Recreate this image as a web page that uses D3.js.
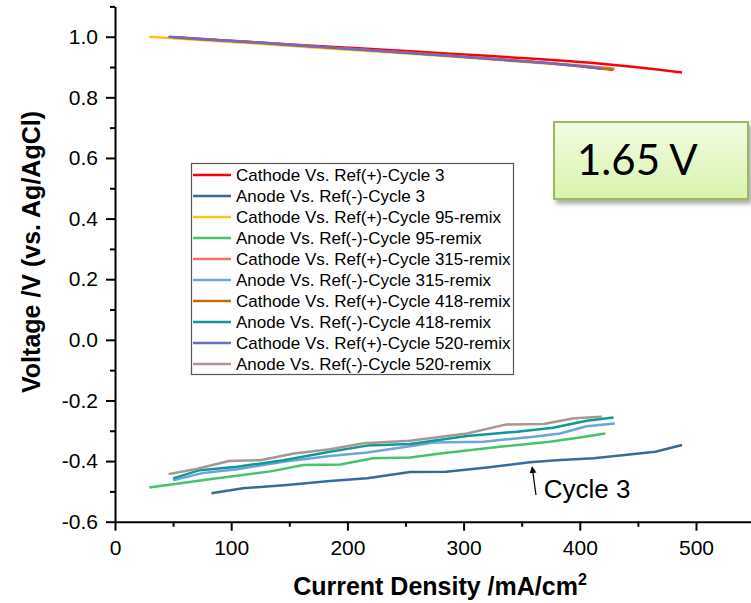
<!DOCTYPE html>
<html>
<head>
<meta charset="utf-8">
<script src="https://cdn.jsdelivr.net/npm/d3@7"></script>
<style>
  body { margin: 0; background: #fff; }
  svg { display: block; font-family: "Liberation Sans", Arial, sans-serif; }
</style>
</head>
<body>
<svg id="chart" width="751" height="603"></svg>
<script>
// series names (legend order)
var seriesNames = [
  "Cathode Vs. Ref(+)-Cycle 3",
  "Anode Vs. Ref(-)-Cycle 3",
  "Cathode Vs. Ref(+)-Cycle 95-remix",
  "Anode Vs. Ref(-)-Cycle 95-remix",
  "Cathode Vs. Ref(+)-Cycle 315-remix",
  "Anode Vs. Ref(-)-Cycle 315-remix",
  "Cathode Vs. Ref(+)-Cycle 418-remix",
  "Anode Vs. Ref(-)-Cycle 418-remix",
  "Cathode Vs. Ref(+)-Cycle 520-remix",
  "Anode Vs. Ref(-)-Cycle 520-remix"
];

// current density (mA/cm2) and voltage (V) for each curve
var cathode3X = [48, 83, 110, 148, 185, 217, 254, 285, 320, 357, 380, 412, 443, 465, 488];
var cathode3V = [0.998, 0.990, 0.984, 0.975, 0.967, 0.960, 0.952, 0.945, 0.937, 0.928, 0.922, 0.913, 0.902, 0.893, 0.882];
var anode3X = [83, 110, 148, 185, 217, 254, 285, 320, 357, 380, 412, 465, 488];
var anode3V = [-0.506, -0.490, -0.479, -0.466, -0.457, -0.436, -0.435, -0.421, -0.404, -0.397, -0.391, -0.369, -0.347];

var cathode95X = [29.5, 83, 134, 162, 194, 222, 254, 280, 331, 374, 400, 422];
var cathode95V = [1.000, 0.987, 0.974, 0.967, 0.959, 0.952, 0.944, 0.937, 0.923, 0.911, 0.903, 0.894];
var anode95X = [29.5, 83, 134, 162, 194, 222, 254, 280, 331, 374, 400, 422];
var anode95V = [-0.487, -0.459, -0.434, -0.413, -0.411, -0.391, -0.388, -0.375, -0.353, -0.336, -0.322, -0.309];

var cathode315X = [50, 76, 105, 145, 185, 217, 254, 274, 317, 360, 383, 406, 430];
var cathode315V = [0.998, 0.992, 0.985, 0.975, 0.964, 0.956, 0.946, 0.941, 0.929, 0.917, 0.910, 0.903, 0.894];
var anode315X = [50, 76, 105, 145, 185, 217, 254, 274, 317, 360, 383, 406, 430];
var anode315V = [-0.463, -0.439, -0.427, -0.402, -0.383, -0.372, -0.351, -0.339, -0.336, -0.320, -0.309, -0.285, -0.276];

var cathode418X = [50, 73, 105, 145, 185, 217, 254, 303, 346, 377, 406, 429];
var cathode418V = [0.998, 0.992, 0.985, 0.975, 0.964, 0.956, 0.946, 0.933, 0.921, 0.912, 0.900, 0.890];
var anode418X = [50, 73, 105, 145, 185, 217, 254, 303, 346, 377, 406, 429];
var anode418V = [-0.457, -0.430, -0.419, -0.397, -0.369, -0.349, -0.344, -0.317, -0.303, -0.290, -0.267, -0.256];

var cathode520X = [46, 70, 98, 125, 154, 185, 214, 254, 303, 337, 369, 395, 419];
var cathode520V = [1.000, 0.994, 0.987, 0.980, 0.972, 0.964, 0.957, 0.946, 0.933, 0.923, 0.914, 0.905, 0.894];
var anode520X = [46, 70, 98, 125, 154, 185, 214, 254, 303, 337, 369, 395, 419];
var anode520V = [-0.443, -0.426, -0.400, -0.397, -0.375, -0.361, -0.341, -0.333, -0.309, -0.279, -0.278, -0.259, -0.254];

var xTicks = [0, 100, 200, 300, 400, 500];
var xMinorTicks = [50, 150, 250, 350, 450];
var yTicks = [-0.6, -0.4, -0.2, 0.0, 0.2, 0.4, 0.6, 0.8, 1.0];
var yMinorTicks = [-0.5, -0.3, -0.1, 0.1, 0.3, 0.5, 0.7, 0.9, 1.1];

var colors = ["#ff0000", "#38699f", "#ffc21a", "#45c46b", "#ff6a6a",
              "#6da4dc", "#c8680e", "#0d9a98", "#6b6bc9", "#a69790"];

var seriesX = [cathode3X, anode3X, cathode95X, anode95X, cathode315X, anode315X, cathode418X, anode418X, cathode520X, anode520X];
var seriesV = [cathode3V, anode3V, cathode95V, anode95V, cathode315V, anode315V, cathode418V, anode418V, cathode520V, anode520V];

var svg = d3.select("#chart");

var x = d3.scaleLinear().domain([0, 547]).range([115, 750.6]);
var y = d3.scaleLinear().domain([-0.6, 1.1]).range([521.7, 6.4]);

// minor ticks
svg.append("g")
  .attr("transform", "translate(0,521.7)")
  .call(d3.axisBottom(x).tickValues(xMinorTicks).tickSize(5).tickFormat(""))
  .call(function(g) { g.select(".domain").remove(); });
svg.append("g")
  .attr("transform", "translate(115,0)")
  .call(d3.axisLeft(y).tickValues(yMinorTicks).tickSize(5).tickFormat(""))
  .call(function(g) { g.select(".domain").remove(); });

// major axes
var xAxis = svg.append("g")
  .attr("transform", "translate(0,521.7)")
  .call(d3.axisBottom(x).tickValues(xTicks).tickSize(9).tickSizeOuter(0).tickPadding(9));
var yAxis = svg.append("g")
  .attr("transform", "translate(115,0)")
  .call(d3.axisLeft(y).tickValues(yTicks).tickSize(9).tickSizeOuter(0).tickPadding(8)
    .tickFormat(function(d) { return d.toFixed(1); }));

svg.selectAll(".tick line, .domain").attr("stroke", "#000").attr("stroke-width", 2);
svg.selectAll(".tick text").attr("font-family", "Liberation Sans, Arial, sans-serif")
  .attr("font-size", 21).attr("fill", "#000");

// curves
var line = d3.line()
  .x(function(d) { return x(d[0]); })
  .y(function(d) { return y(d[1]); });

for (var i = 0; i < seriesNames.length; i++) {
  var pts = seriesX[i].map(function(v, k) { return [v, seriesV[i][k]]; });
  svg.append("path")
    .attr("d", line(pts))
    .attr("fill", "none")
    .attr("stroke", colors[i])
    .attr("stroke-width", 2.5)
    .attr("stroke-linejoin", "round");
}

// axis titles
svg.append("text")
  .attr("x", 440).attr("y", 595)
  .attr("text-anchor", "middle")
  .attr("font-size", 25).attr("font-weight", "bold")
  .html('Current Density /mA/cm<tspan dy="-10" font-size="16">2</tspan>');

svg.append("text")
  .attr("transform", "translate(40,252) rotate(-90)")
  .attr("text-anchor", "middle")
  .attr("font-size", 25).attr("font-weight", "bold")
  .text("Voltage /V (vs. Ag/AgCl)");

// legend
var legend = svg.append("g");
legend.append("rect")
  .attr("x", 191.5).attr("y", 163.5).attr("width", 322).attr("height", 211)
  .attr("fill", "#fff").attr("stroke", "#555").attr("stroke-width", 1.2);
seriesNames.forEach(function(name, i) {
  var cy = 175 + i * 21;
  legend.append("line")
    .attr("x1", 193).attr("x2", 231).attr("y1", cy).attr("y2", cy)
    .attr("stroke", colors[i]).attr("stroke-width", 2.5);
  legend.append("text")
    .attr("x", 236).attr("y", cy).attr("dy", "0.36em")
    .attr("font-size", 17).attr("fill", "#000")
    .text(name);
});

// 1.65 V box
var defs = svg.append("defs");
var grad = defs.append("linearGradient").attr("id", "boxFill")
  .attr("x1", 0).attr("y1", 0).attr("x2", 0).attr("y2", 1);
grad.append("stop").attr("offset", "0%").attr("stop-color", "#f3fce4");
grad.append("stop").attr("offset", "100%").attr("stop-color", "#d9f3ad");
var shadow = defs.append("filter").attr("id", "shadow")
  .attr("x", "-10%").attr("y", "-10%").attr("width", "130%").attr("height", "140%");
shadow.append("feDropShadow").attr("dx", 3).attr("dy", 4).attr("stdDeviation", 2)
  .attr("flood-color", "#777").attr("flood-opacity", 0.6);

svg.append("rect")
  .attr("x", 554).attr("y", 122).attr("width", 194).attr("height", 77)
  .attr("fill", "url(#boxFill)").attr("stroke", "#9bbb59").attr("stroke-width", 2)
  .attr("filter", "url(#shadow)");
svg.append("text")
  .attr("x", 577).attr("y", 175)
  .attr("font-family", "Lato, 'Open Sans', sans-serif")
  .attr("font-size", 42).attr("fill", "#000")
  .text("1.65 V");

// Cycle 3 annotation
defs.append("marker").attr("id", "arrow")
  .attr("viewBox", "0 0 10 10").attr("refX", 9).attr("refY", 5)
  .attr("markerWidth", 7).attr("markerHeight", 10).attr("markerUnits", "userSpaceOnUse")
  .attr("orient", "auto")
  .append("path").attr("d", "M0,0 L10,5 L0,10 Z").attr("fill", "#000");

svg.append("line")
  .attr("x1", x(362.3)).attr("y1", y(-0.512))
  .attr("x2", x(359)).attr("y2", y(-0.419))
  .attr("stroke", "#000").attr("stroke-width", 1.2)
  .attr("marker-end", "url(#arrow)");
svg.append("text")
  .attr("x", x(369)).attr("y", y(-0.523))
  .attr("font-size", 26).attr("fill", "#000")
  .text("Cycle 3");
</script>
</body>
</html>
